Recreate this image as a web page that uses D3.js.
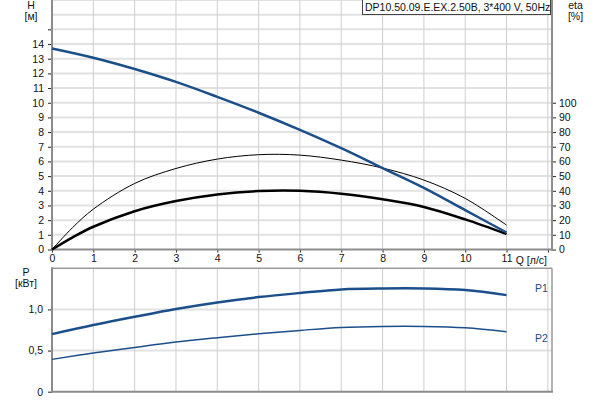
<!DOCTYPE html>
<html><head><meta charset="utf-8">
<script src="https://cdn.jsdelivr.net/npm/d3@7"></script>
<style>
html,body{margin:0;padding:0;background:#fff;}
svg{display:block;font-family:"Liberation Sans",Arial,sans-serif;}
</style></head>
<body><svg id="c" width="600" height="400"></svg>
<script>
// ---- data ----
const flowQ = [0,1,2,3,4,5,6,7,8,9,10,11];
const headH = [13.7,13.07,12.3,11.42,10.4,9.32,8.15,6.9,5.55,4.2,2.68,1.16];
const etaQ = [0,0.5,1,2,3,4,5,6,7,8,9,10,11];
const etaThin = [0,15,27.5,45,55.2,61.6,64.6,64.3,60.9,55.5,47.3,34.8,16.6];
const etaThick = [0,8.3,15.5,26.1,33,37.5,39.8,40,38,34.2,29,20.5,10.5];
const powerP1 = [0.70,0.81,0.91,1.005,1.085,1.15,1.2,1.243,1.255,1.255,1.235,1.174];
const powerP2 = [0.393,0.47,0.538,0.603,0.656,0.704,0.745,0.781,0.794,0.794,0.777,0.729];
const xTicks = [0,1,2,3,4,5,6,7,8,9,10,11,12];
const hTicks = [0,1,2,3,4,5,6,7,8,9,10,11,12,13,14,15];
const etaTicks = [0,10,20,30,40,50,60,70,80,90,100];
const pTicks = [0,0.5,1.0];
const titleText = "DP10.50.09.E.EX.2.50B, 3*400 V, 50Hz";

const svg = d3.select("#c");
const X0 = 52, X1 = 552;
const x = d3.scaleLinear().domain([0,12.1]).range([X0,X1]);
const yH = d3.scaleLinear().domain([0,17]).range([249.5,0]);
const yEta = d3.scaleLinear().domain([0,100]).range([yH(0),yH(10)]);
const yP = d3.scaleLinear().domain([0,1.5]).range([391.7,268.3]);

const blue = "#1b4f8a";
const gridV = "#cfcfcf", gridH = "#e2e2e2", axisC = "#8c8c8c", txt = "#111";
const fs = "10.5px";

// ---- top grid ----
const gTop = svg.append("g");
gTop.selectAll(".gh").data(d3.range(1,18)).enter().append("line")
  .attr("x1",X0).attr("x2",X1).attr("y1",d=>yH(d)).attr("y2",d=>yH(d))
  .attr("stroke",gridH).attr("stroke-width",2);
gTop.selectAll(".gv").data(xTicks.slice(1)).enter().append("line")
  .attr("x1",d=>x(d)).attr("x2",d=>x(d)).attr("y1",0).attr("y2",yH(0))
  .attr("stroke",gridV).attr("stroke-width",1);

// ---- bottom grid ----
const gBot = svg.append("g");
gBot.selectAll(".gh").data([0.5,1.0]).enter().append("line")
  .attr("x1",X0).attr("x2",X1).attr("y1",d=>yP(d)).attr("y2",d=>yP(d))
  .attr("stroke",gridH).attr("stroke-width",2);
gBot.selectAll(".gv").data(xTicks.slice(1)).enter().append("line")
  .attr("x1",d=>x(d)).attr("x2",d=>x(d)).attr("y1",yP(1.5)).attr("y2",yP(0))
  .attr("stroke",gridV).attr("stroke-width",1);
// frame of bottom plot
svg.append("line").attr("x1",X0).attr("x2",X1).attr("y1",yP(1.5)).attr("y2",yP(1.5)).attr("stroke","#9a9a9a").attr("stroke-width",1.5);
svg.append("line").attr("x1",X1).attr("x2",X1).attr("y1",yP(1.5)).attr("y2",yP(0)).attr("stroke","#9a9a9a").attr("stroke-width",1.5);

// ---- axes ----
function styleAxis(g){
  g.select(".domain").remove();
  g.selectAll(".tick line").attr("stroke","#222").attr("stroke-width",1);
  g.selectAll(".tick text").attr("fill",txt).style("font-size",fs).style("font-family","'Liberation Sans',Arial,sans-serif");
}
// left H axis
const axH = svg.append("g").attr("transform",`translate(${X0},0)`)
  .call(d3.axisLeft(yH).tickValues(hTicks).tickSize(4).tickPadding(4).tickFormat(d=>d===15?"":d));
styleAxis(axH);
// right eta axis
const axE = svg.append("g").attr("transform",`translate(${X1},0)`)
  .call(d3.axisRight(yEta).tickValues(etaTicks).tickSize(4).tickPadding(3));
styleAxis(axE);
// x axis top plot
const axX = svg.append("g").attr("transform",`translate(0,${yH(0)})`)
  .call(d3.axisBottom(x).tickValues(xTicks).tickSize(3).tickPadding(2).tickFormat(d=>d===12?"":d));
styleAxis(axX);
// left P axis
const axP = svg.append("g").attr("transform",`translate(${X0},0)`)
  .call(d3.axisLeft(yP).tickValues(pTicks).tickSize(4).tickPadding(5).tickFormat(d=>d===0?"0":d3.format(".1f")(d).replace(".",",")));
styleAxis(axP);

// axis lines
svg.append("line").attr("x1",X0).attr("x2",X0).attr("y1",0).attr("y2",yH(0)+1).attr("stroke",axisC).attr("stroke-width",2);
svg.append("line").attr("x1",X1).attr("x2",X1).attr("y1",0).attr("y2",yH(0)+1).attr("stroke",axisC).attr("stroke-width",2);
svg.append("line").attr("x1",X0-1).attr("x2",X1+1).attr("y1",yH(0)).attr("y2",yH(0)).attr("stroke",axisC).attr("stroke-width",2);
svg.append("line").attr("x1",X0).attr("x2",X0).attr("y1",yP(1.5)-1).attr("y2",yP(0)+1).attr("stroke",axisC).attr("stroke-width",2);
svg.append("line").attr("x1",X0-1).attr("x2",X1+1).attr("y1",yP(0)).attr("y2",yP(0)).attr("stroke",axisC).attr("stroke-width",2);

// ---- curves ----
const crv = d3.curveCatmullRom.alpha(0.5);
const lineH = d3.line().x((d,i)=>x(flowQ[i])).y(d=>yH(d)).curve(crv);
const lineE = d3.line().x((d,i)=>x(etaQ[i])).y(d=>yEta(d)).curve(crv);
const lineP = d3.line().x((d,i)=>x(flowQ[i])).y(d=>yP(d)).curve(crv);

svg.append("path").attr("d",lineE(etaThin)).attr("fill","none").attr("stroke","#000").attr("stroke-width",1);
svg.append("path").attr("d",lineE(etaThick)).attr("fill","none").attr("stroke","#000").attr("stroke-width",2.5);
svg.append("path").attr("d",lineH(headH)).attr("fill","none").attr("stroke",blue).attr("stroke-width",2.5);
svg.append("path").attr("d",lineP(powerP1)).attr("fill","none").attr("stroke",blue).attr("stroke-width",2.5);
svg.append("path").attr("d",lineP(powerP2)).attr("fill","none").attr("stroke",blue).attr("stroke-width",1.5);

// ---- texts ----
function t(xp,yp,s,anchor,col){
  svg.append("text").attr("x",xp).attr("y",yp).attr("text-anchor",anchor||"middle")
    .attr("fill",col||txt).style("font-size",fs).text(s);
}
t(31,9,"H"); t(31,20,"[м]");
t(575.5,9,"eta"); t(575.5,20,"[%]");
t(26,275.7,"P"); t(26,287,"[кВт]");
t(547,263.5,"Q [л/с]","end");
t(535,292.3,"P1","start",blue);
t(535,342.3,"P2","start",blue);

// title box
svg.append("rect").attr("x",362.5).attr("y",-1).attr("width",188).attr("height",15.5)
  .attr("fill","#fff").attr("stroke","#444").attr("stroke-width",1);
t(365,11.3,titleText,"start");
</script></body></html>
